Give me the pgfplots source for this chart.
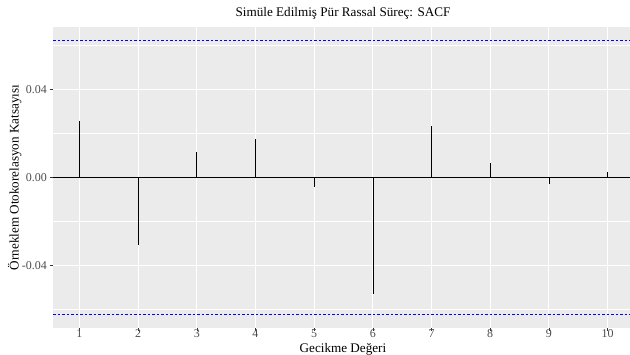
\documentclass[border=0pt]{standalone}
\usepackage{fontspec}
\setmainfont{Liberation Serif}
\usepackage{pgfplots}
\pgfplotsset{compat=1.18}
\definecolor{panel}{HTML}{EBEBEB}
\definecolor{ticklab}{HTML}{4D4D4D}
\definecolor{tickc}{HTML}{333333}
\definecolor{refblue}{HTML}{0000FF}
\begin{document}
\begin{tikzpicture}
\path[use as bounding box] (0,0) rectangle (630bp,355bp);
\begin{axis}[at={(53bp,27bp)}, anchor=south west, scale only axis,
  width=581bp, height=301bp,
  xmin=0.55, xmax=10.45, ymin=-0.0684, ymax=0.0684,
  axis background/.style={fill=panel}, axis line style={draw=none},
  xtick={1,2,3,4,5,6,7,8,9,10},
  ytick={-0.04,0,0.04}, minor ytick={-0.06,-0.02,0.02,0.06},
  yticklabels={-0.04,0.00,0.04},
  scaled y ticks=false,
  xtick pos=bottom, ytick pos=left,
  grid=both,
  major grid style={white, line width=1.1bp},
  minor grid style={white, line width=0.55bp},
  tick style={tickc, line width=0.5bp},
  major tick length=2.7bp, minor tick length=0pt, tick align=outside,
  tick label style={font=\fontsize{12}{13}\selectfont, text=ticklab},
  xticklabel style={yshift=2bp, inner sep=1bp},
  /pgf/number format/assume math mode=true,
  clip=false,
]
\addplot[draw=black, line width=0.6bp] coordinates {(0.55,0) (10.45,0)};
\addplot[draw=refblue, line width=0.75bp, dash pattern=on 2.5bp off 2bp] coordinates {(0.55,0.0621) (10.45,0.0621)};
\addplot[draw=refblue, line width=0.75bp, dash pattern=on 2.5bp off 2bp] coordinates {(0.55,-0.0621) (10.45,-0.0621)};
\addplot[ycomb, draw=black, line width=0.6bp, mark=none] coordinates {
(1,0.0259) (2,-0.0305) (3,0.0114) (4,0.0173) (5,-0.0044)
(6,-0.0529) (7,0.0236) (8,0.0067) (9,-0.0029) (10,0.0027)};
\end{axis}
\node[anchor=base, font=\fontsize{13.2}{15}\selectfont] at (343bp,338bp) {Simüle Edilmiş Pür Rassal Süreç: SACF};
\node[anchor=base, inner sep=0pt, font=\fontsize{13.2}{14}\selectfont] at (343bp,3bp) {Gecikme Değeri};
\node[anchor=base, inner sep=0pt, rotate=90, font=\fontsize{13.2}{14}\selectfont] at (18.5bp,177.5bp) {Örneklem Otokorelasyon Katsayısı};
\end{tikzpicture}
\end{document}
